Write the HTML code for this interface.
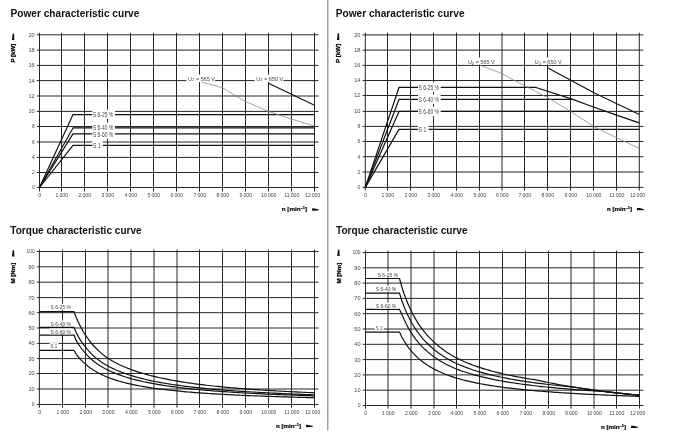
<!DOCTYPE html><html><head><meta charset="utf-8"><style>html,body{margin:0;padding:0;background:#fff;width:700px;height:434px;overflow:hidden}svg{display:block;will-change:transform}text{font-family:"Liberation Sans", sans-serif}</style></head><body>
<svg width="700" height="434" viewBox="0 0 700 434">
<rect width="700" height="434" fill="#fff"/>
<g stroke="#262626" stroke-width="1">
<line x1="36.9" y1="187.5" x2="318.5" y2="187.5"/>
<line x1="36.9" y1="172.5" x2="318.5" y2="172.5"/>
<line x1="36.9" y1="157.4" x2="318.5" y2="157.4"/>
<line x1="36.9" y1="142" x2="318.5" y2="142"/>
<line x1="36.9" y1="126.5" x2="318.5" y2="126.5"/>
<line x1="36.9" y1="111.4" x2="318.5" y2="111.4"/>
<line x1="36.9" y1="96" x2="318.5" y2="96"/>
<line x1="36.9" y1="80.6" x2="318.5" y2="80.6"/>
<line x1="36.9" y1="65.4" x2="318.5" y2="65.4"/>
<line x1="36.9" y1="50.1" x2="318.5" y2="50.1"/>
<line x1="36.9" y1="34.8" x2="318.5" y2="34.8"/>
<line x1="39.5" y1="32.8" x2="39.5" y2="191.5"/>
<line x1="61.5" y1="32.8" x2="61.5" y2="191.5"/>
<line x1="84.5" y1="32.8" x2="84.5" y2="191.5"/>
<line x1="107.5" y1="32.8" x2="107.5" y2="191.5"/>
<line x1="130.5" y1="32.8" x2="130.5" y2="191.5"/>
<line x1="153.5" y1="32.8" x2="153.5" y2="191.5"/>
<line x1="176.5" y1="32.8" x2="176.5" y2="191.5"/>
<line x1="199.5" y1="32.8" x2="199.5" y2="191.5"/>
<line x1="222.5" y1="32.8" x2="222.5" y2="191.5"/>
<line x1="245.5" y1="32.8" x2="245.5" y2="191.5"/>
<line x1="268.5" y1="32.8" x2="268.5" y2="191.5"/>
<line x1="291.5" y1="32.8" x2="291.5" y2="191.5"/>
<line x1="314.5" y1="32.8" x2="314.5" y2="191.5"/>
</g>
<g stroke="#262626" stroke-width="1">
<line x1="362.6" y1="187.4" x2="643.4" y2="187.4"/>
<line x1="362.6" y1="172" x2="643.4" y2="172"/>
<line x1="362.6" y1="156.7" x2="643.4" y2="156.7"/>
<line x1="362.6" y1="141.5" x2="643.4" y2="141.5"/>
<line x1="362.6" y1="126.4" x2="643.4" y2="126.4"/>
<line x1="362.6" y1="111.4" x2="643.4" y2="111.4"/>
<line x1="362.6" y1="95.5" x2="643.4" y2="95.5"/>
<line x1="362.6" y1="80.5" x2="643.4" y2="80.5"/>
<line x1="362.6" y1="65.4" x2="643.4" y2="65.4"/>
<line x1="362.6" y1="50.1" x2="643.4" y2="50.1"/>
<line x1="362.6" y1="34.9" x2="643.4" y2="34.9"/>
<line x1="365.3" y1="32.7" x2="365.3" y2="190.6"/>
<line x1="387.5" y1="32.7" x2="387.5" y2="190.6"/>
<line x1="410.5" y1="32.7" x2="410.5" y2="190.6"/>
<line x1="433.5" y1="32.7" x2="433.5" y2="190.6"/>
<line x1="456.5" y1="32.7" x2="456.5" y2="190.6"/>
<line x1="479.5" y1="32.7" x2="479.5" y2="190.6"/>
<line x1="502" y1="32.7" x2="502" y2="190.6"/>
<line x1="524.5" y1="32.7" x2="524.5" y2="190.6"/>
<line x1="547.5" y1="32.7" x2="547.5" y2="190.6"/>
<line x1="570.5" y1="32.7" x2="570.5" y2="190.6"/>
<line x1="593.5" y1="32.7" x2="593.5" y2="190.6"/>
<line x1="616.5" y1="32.7" x2="616.5" y2="190.6"/>
<line x1="639.3" y1="32.7" x2="639.3" y2="190.6"/>
</g>
<g stroke="#262626" stroke-width="1">
<line x1="36.8" y1="404.5" x2="318.5" y2="404.5"/>
<line x1="36.8" y1="389" x2="318.5" y2="389"/>
<line x1="36.8" y1="373.5" x2="318.5" y2="373.5"/>
<line x1="36.8" y1="358.6" x2="318.5" y2="358.6"/>
<line x1="36.8" y1="343.4" x2="318.5" y2="343.4"/>
<line x1="36.8" y1="328" x2="318.5" y2="328"/>
<line x1="36.8" y1="312.7" x2="318.5" y2="312.7"/>
<line x1="36.8" y1="297.6" x2="318.5" y2="297.6"/>
<line x1="36.8" y1="282.2" x2="318.5" y2="282.2"/>
<line x1="36.8" y1="266.8" x2="318.5" y2="266.8"/>
<line x1="36.8" y1="251.5" x2="318.5" y2="251.5"/>
<line x1="39.4" y1="249.5" x2="39.4" y2="407.7"/>
<line x1="62.5" y1="249.5" x2="62.5" y2="407.7"/>
<line x1="85.5" y1="249.5" x2="85.5" y2="407.7"/>
<line x1="108" y1="249.5" x2="108" y2="407.7"/>
<line x1="131" y1="249.5" x2="131" y2="407.7"/>
<line x1="154" y1="249.5" x2="154" y2="407.7"/>
<line x1="177" y1="249.5" x2="177" y2="407.7"/>
<line x1="199.5" y1="249.5" x2="199.5" y2="407.7"/>
<line x1="222.5" y1="249.5" x2="222.5" y2="407.7"/>
<line x1="245.5" y1="249.5" x2="245.5" y2="407.7"/>
<line x1="268.5" y1="249.5" x2="268.5" y2="407.7"/>
<line x1="291.5" y1="249.5" x2="291.5" y2="407.7"/>
<line x1="314.5" y1="249.5" x2="314.5" y2="407.7"/>
</g>
<g stroke="#262626" stroke-width="1">
<line x1="362.7" y1="405.5" x2="643.4" y2="405.5"/>
<line x1="362.7" y1="390.2" x2="643.4" y2="390.2"/>
<line x1="362.7" y1="374.9" x2="643.4" y2="374.9"/>
<line x1="362.7" y1="359.6" x2="643.4" y2="359.6"/>
<line x1="362.7" y1="344.3" x2="643.4" y2="344.3"/>
<line x1="362.7" y1="329" x2="643.4" y2="329"/>
<line x1="362.7" y1="313.7" x2="643.4" y2="313.7"/>
<line x1="362.7" y1="298.4" x2="643.4" y2="298.4"/>
<line x1="362.7" y1="283.1" x2="643.4" y2="283.1"/>
<line x1="362.7" y1="267.8" x2="643.4" y2="267.8"/>
<line x1="362.7" y1="252.5" x2="643.4" y2="252.5"/>
<line x1="365.5" y1="250.5" x2="365.5" y2="408.6"/>
<line x1="388" y1="250.5" x2="388" y2="408.6"/>
<line x1="411" y1="250.5" x2="411" y2="408.6"/>
<line x1="434" y1="250.5" x2="434" y2="408.6"/>
<line x1="456.5" y1="250.5" x2="456.5" y2="408.6"/>
<line x1="479.5" y1="250.5" x2="479.5" y2="408.6"/>
<line x1="502.5" y1="250.5" x2="502.5" y2="408.6"/>
<line x1="525.5" y1="250.5" x2="525.5" y2="408.6"/>
<line x1="548.5" y1="250.5" x2="548.5" y2="408.6"/>
<line x1="571" y1="250.5" x2="571" y2="408.6"/>
<line x1="594" y1="250.5" x2="594" y2="408.6"/>
<line x1="616.5" y1="250.5" x2="616.5" y2="408.6"/>
<line x1="639.5" y1="250.5" x2="639.5" y2="408.6"/>
</g>
<path d="M39.5 187.5 L73 114.57 L314.5 114.57" fill="none" stroke="#111" stroke-width="1.2" stroke-linejoin="round"/>
<path d="M39.5 187.5 L73 127.97 L314.5 127.97" fill="none" stroke="#111" stroke-width="1.2" stroke-linejoin="round"/>
<path d="M39.5 187.5 L73 133.86 L314.5 133.86" fill="none" stroke="#111" stroke-width="1.2" stroke-linejoin="round"/>
<path d="M39.5 187.5 L73 145.39 L314.5 145.39" fill="none" stroke="#111" stroke-width="1.2" stroke-linejoin="round"/>
<path d="M201.8 82.14 L221.97 87.53 L243.75 100.62 L268.27 111.4 L292.81 119.48 L314.5 126.12" fill="none" stroke="#8a8a8a" stroke-width="0.8" stroke-linejoin="round"/>
<path d="M268.5 83.29 L314.5 105.24" fill="none" stroke="#111" stroke-width="1.1" stroke-linejoin="round"/>
<path d="M365.3 187.4 L399 87.47 L536 87.47 L570.5 98.68 L593.5 107.03 L616.5 115.15 L639.3 122.88" fill="none" stroke="#111" stroke-width="1.2" stroke-linejoin="round"/>
<path d="M365.3 187.4 L399 99.47 L572.8 99.47" fill="none" stroke="#111" stroke-width="1.2" stroke-linejoin="round"/>
<path d="M365.3 187.4 L399 111.4 L605.69 111.4" fill="none" stroke="#111" stroke-width="1.2" stroke-linejoin="round"/>
<path d="M365.3 187.4 L399 129.42 L639.3 129.42" fill="none" stroke="#111" stroke-width="1.2" stroke-linejoin="round"/>
<path d="M480.85 65.4 L502 73.7 L524.5 85.75 L547.5 97.49 L570.5 111.4 L593.5 126.4 L616.5 137.72 L639.3 148.34" fill="none" stroke="#8a8a8a" stroke-width="0.8" stroke-linejoin="round"/>
<path d="M547.5 67.67 L593.5 92.5 L639.3 114.4" fill="none" stroke="#111" stroke-width="1.1" stroke-linejoin="round"/>
<path d="M39.4 311.64 L74 311.64 L76.3 317.75 L78.6 322.85 L80.9 327.39 L83.2 331.47 L85.5 335.15 L87.75 338.47 L90 341.5 L92.25 344.25 L94.5 346.75 L96.75 349.04 L99 351.16 L101.25 353.13 L103.5 354.95 L105.75 356.65 L108 358.24 L110.3 359.7 L112.6 361.06 L114.9 362.34 L117.2 363.54 L119.5 364.68 L121.8 365.75 L124.1 366.77 L126.4 367.73 L128.7 368.64 L131 369.51 L133.3 370.33 L135.6 371.12 L137.9 371.87 L140.2 372.58 L142.5 373.26 L144.8 373.93 L147.1 374.58 L149.4 375.21 L151.7 375.8 L154 376.38 L156.3 376.93 L158.6 377.46 L160.9 377.97 L163.2 378.46 L165.5 378.93 L167.8 379.39 L170.1 379.83 L172.4 380.26 L174.7 380.67 L177 381.06 L179.25 381.45 L181.5 381.82 L183.75 382.18 L186 382.53 L188.25 382.87 L190.5 383.19 L192.75 383.51 L195 383.82 L197.25 384.12 L199.5 384.41 L201.8 384.7 L204.1 384.97 L206.4 385.24 L208.7 385.5 L211 385.75 L213.3 386 L215.6 386.24 L217.9 386.47 L220.2 386.7 L222.5 386.92 L224.8 387.14 L227.1 387.35 L229.4 387.56 L231.7 387.76 L234 387.96 L236.3 388.15 L238.6 388.34 L240.9 388.52 L243.2 388.7 L245.5 388.88 L247.8 389.05 L250.1 389.22 L252.4 389.38 L254.7 389.54 L257 389.7 L259.3 389.85 L261.6 390 L263.9 390.15 L266.2 390.3 L268.5 390.44 L270.8 390.58 L273.1 390.71 L275.4 390.85 L277.7 390.98 L280 391.11 L282.3 391.23 L284.6 391.36 L286.9 391.48 L289.2 391.6 L291.5 391.72 L293.8 391.83 L296.1 391.95 L298.4 392.06 L300.7 392.17 L303 392.27 L305.3 392.38 L307.6 392.48 L309.9 392.58 L312.2 392.68 L314.5 392.78" fill="none" stroke="#111" stroke-width="1.2" stroke-linejoin="round"/>
<path d="M39.4 327.39 L74 327.39 L76.3 332.85 L78.6 337.09 L80.9 340.87 L83.2 344.23 L85.5 347.23 L87.75 349.94 L90 352.41 L92.25 354.66 L94.5 356.72 L96.75 358.62 L99 360.34 L101.25 361.93 L103.5 363.41 L105.75 364.79 L108 366.07 L110.3 367.27 L112.6 368.4 L114.9 369.45 L117.2 370.45 L119.5 371.39 L121.8 372.27 L124.1 373.11 L126.4 373.92 L128.7 374.71 L131 375.45 L133.3 376.16 L135.6 376.84 L137.9 377.48 L140.2 378.09 L142.5 378.68 L144.8 379.24 L147.1 379.78 L149.4 380.29 L151.7 380.79 L154 381.26 L156.3 381.72 L158.6 382.16 L160.9 382.58 L163.2 382.98 L165.5 383.37 L167.8 383.75 L170.1 384.12 L172.4 384.47 L174.7 384.81 L177 385.13 L179.25 385.45 L181.5 385.76 L183.75 386.06 L186 386.35 L188.25 386.62 L190.5 386.9 L192.75 387.16 L195 387.41 L197.25 387.66 L199.5 387.9 L201.8 388.14 L204.1 388.36 L206.4 388.58 L208.7 388.8 L211 389.01 L213.3 389.21 L215.6 389.41 L217.9 389.6 L220.2 389.79 L222.5 389.98 L224.8 390.16 L227.1 390.33 L229.4 390.5 L231.7 390.67 L234 390.83 L236.3 390.99 L238.6 391.14 L240.9 391.3 L243.2 391.44 L245.5 391.59 L247.8 391.73 L250.1 391.87 L252.4 392.01 L254.7 392.14 L257 392.27 L259.3 392.4 L261.6 392.52 L263.9 392.64 L266.2 392.76 L268.5 392.88 L270.8 393 L273.1 393.11 L275.4 393.22 L277.7 393.33 L280 393.43 L282.3 393.54 L284.6 393.64 L286.9 393.74 L289.2 393.84 L291.5 393.94 L293.8 394.03 L296.1 394.13 L298.4 394.22 L300.7 394.31 L303 394.4 L305.3 394.48 L307.6 394.57 L309.9 394.65 L312.2 394.74 L314.5 394.82" fill="none" stroke="#111" stroke-width="1.2" stroke-linejoin="round"/>
<path d="M39.4 335.08 L74 335.08 L76.3 340.66 L78.6 344.43 L80.9 347.75 L83.2 350.72 L85.5 353.4 L87.75 355.82 L90 358.02 L92.25 360 L94.5 361.8 L96.75 363.46 L99 364.99 L101.25 366.41 L103.5 367.73 L105.75 368.96 L108 370.1 L110.3 371.17 L112.6 372.18 L114.9 373.12 L117.2 374.03 L119.5 374.9 L121.8 375.72 L124.1 376.5 L126.4 377.23 L128.7 377.93 L131 378.6 L133.3 379.23 L135.6 379.83 L137.9 380.4 L140.2 380.95 L142.5 381.48 L144.8 381.98 L147.1 382.46 L149.4 382.91 L151.7 383.36 L154 383.78 L156.3 384.18 L158.6 384.58 L160.9 384.95 L163.2 385.31 L165.5 385.66 L167.8 386 L170.1 386.32 L172.4 386.64 L174.7 386.94 L177 387.23 L179.25 387.51 L181.5 387.79 L183.75 388.05 L186 388.31 L188.25 388.56 L190.5 388.8 L192.75 389.04 L195 389.26 L197.25 389.48 L199.5 389.7 L201.8 389.91 L204.1 390.11 L206.4 390.31 L208.7 390.5 L211 390.69 L213.3 390.87 L215.6 391.04 L217.9 391.22 L220.2 391.38 L222.5 391.55 L224.8 391.71 L227.1 391.86 L229.4 392.02 L231.7 392.17 L234 392.31 L236.3 392.45 L238.6 392.59 L240.9 392.73 L243.2 392.86 L245.5 392.99 L247.8 393.11 L250.1 393.24 L252.4 393.36 L254.7 393.48 L257 393.59 L259.3 393.71 L261.6 393.82 L263.9 393.93 L266.2 394.03 L268.5 394.14 L270.8 394.24 L273.1 394.34 L275.4 394.44 L277.7 394.54 L280 394.63 L282.3 394.73 L284.6 394.82 L286.9 394.91 L289.2 394.99 L291.5 395.08 L293.8 395.17 L296.1 395.25 L298.4 395.33 L300.7 395.41 L303 395.49 L305.3 395.57 L307.6 395.64 L309.9 395.72 L312.2 395.79 L314.5 395.87" fill="none" stroke="#111" stroke-width="1.2" stroke-linejoin="round"/>
<path d="M39.4 350.39 L74 350.39 L76.3 354.3 L78.6 357.24 L80.9 359.82 L83.2 362.11 L85.5 364.17 L87.75 366.03 L90 367.73 L92.25 369.28 L94.5 370.69 L96.75 372 L99 373.2 L101.25 374.35 L103.5 375.43 L105.75 376.43 L108 377.36 L110.3 378.24 L112.6 379.06 L114.9 379.83 L117.2 380.56 L119.5 381.24 L121.8 381.89 L124.1 382.5 L126.4 383.08 L128.7 383.63 L131 384.15 L133.3 384.64 L135.6 385.12 L137.9 385.57 L140.2 386 L142.5 386.41 L144.8 386.8 L147.1 387.18 L149.4 387.54 L151.7 387.89 L154 388.22 L156.3 388.54 L158.6 388.84 L160.9 389.14 L163.2 389.42 L165.5 389.7 L167.8 389.96 L170.1 390.22 L172.4 390.46 L174.7 390.7 L177 390.93 L179.25 391.15 L181.5 391.37 L183.75 391.58 L186 391.78 L188.25 391.98 L190.5 392.17 L192.75 392.35 L195 392.53 L197.25 392.7 L199.5 392.87 L201.8 393.03 L204.1 393.19 L206.4 393.35 L208.7 393.5 L211 393.65 L213.3 393.79 L215.6 393.93 L217.9 394.06 L220.2 394.2 L222.5 394.32 L224.8 394.45 L227.1 394.57 L229.4 394.69 L231.7 394.81 L234 394.92 L236.3 395.03 L238.6 395.14 L240.9 395.25 L243.2 395.35 L245.5 395.45 L247.8 395.55 L250.1 395.65 L252.4 395.75 L254.7 395.84 L257 395.93 L259.3 396.02 L261.6 396.11 L263.9 396.19 L266.2 396.28 L268.5 396.36 L270.8 396.44 L273.1 396.52 L275.4 396.6 L277.7 396.67 L280 396.75 L282.3 396.82 L284.6 396.89 L286.9 396.96 L289.2 397.03 L291.5 397.1 L293.8 397.17 L296.1 397.23 L298.4 397.3 L300.7 397.36 L303 397.42 L305.3 397.48 L307.6 397.54 L309.9 397.6 L312.2 397.66 L314.5 397.72" fill="none" stroke="#111" stroke-width="1.2" stroke-linejoin="round"/>
<path d="M365.5 278.51 L399.5 278.51 L401.8 286.78 L404.1 293.75 L406.4 299.95 L408.7 305.5 L411 310.49 L413.3 315.01 L415.6 319.11 L417.9 322.86 L420.2 326.3 L422.5 329.46 L424.8 332.38 L427.1 335.08 L429.4 337.59 L431.7 339.92 L434 342.1 L436.25 344.14 L438.5 346.05 L440.75 347.85 L443 349.54 L445.25 351.14 L447.5 352.64 L449.75 354.06 L452 355.41 L454.25 356.69 L456.5 357.91 L458.8 359.07 L461.1 360.17 L463.4 361.22 L465.7 362.22 L468 363.18 L470.3 364.09 L472.6 364.97 L474.9 365.81 L477.2 366.62 L479.5 367.39 L481.8 368.14 L484.1 368.85 L486.4 369.54 L488.7 370.2 L491 370.84 L493.3 371.46 L495.6 372.05 L497.9 372.63 L500.2 373.18 L502.5 373.72 L504.8 374.23 L507.1 374.74 L509.4 375.22 L511.7 375.69 L514 376.15 L516.3 376.59 L518.6 377.02 L520.9 377.44 L523.2 377.84 L525.5 378.23 L527.8 378.61 L530.1 378.99 L532.4 379.35 L534.7 379.7 L537 380.04 L539.3 380.56 L541.6 381.07 L543.9 381.57 L546.2 382.05 L548.5 382.53 L550.75 382.99 L553 383.43 L555.25 383.87 L557.5 384.3 L559.75 384.72 L562 385.13 L564.25 385.53 L566.5 385.92 L568.75 386.3 L571 386.67 L573.3 387.04 L575.6 387.41 L577.9 387.77 L580.2 388.12 L582.5 388.47 L584.8 388.8 L587.1 389.13 L589.4 389.46 L591.7 389.78 L594 390.09 L596.25 390.39 L598.5 390.69 L600.75 390.98 L603 391.27 L605.25 391.55 L607.5 391.83 L609.75 392.1 L612 392.36 L614.25 392.63 L616.5 392.88 L618.8 393.13 L621.1 393.38 L623.4 393.62 L625.7 393.85 L628 394.08 L630.3 394.31 L632.6 394.54 L634.9 394.76 L637.2 394.97 L639.5 395.19" fill="none" stroke="#111" stroke-width="1.2" stroke-linejoin="round"/>
<path d="M365.5 293.2 L399.5 293.2 L401.8 300.49 L404.1 306.66 L406.4 312.16 L408.7 317.07 L411 321.49 L413.3 325.49 L415.6 329.13 L417.9 332.45 L420.2 335.49 L422.5 338.29 L424.8 340.88 L427.1 343.27 L429.4 345.49 L431.7 347.56 L434 349.49 L436.25 351.3 L438.5 352.99 L440.75 354.58 L443 356.08 L445.25 357.49 L447.5 358.83 L449.75 360.09 L452 361.28 L454.25 362.42 L456.5 363.5 L458.8 364.52 L461.1 365.5 L463.4 366.43 L465.7 367.31 L468 368.16 L470.3 368.97 L472.6 369.75 L474.9 370.5 L477.2 371.21 L479.5 371.9 L481.8 372.55 L484.1 373.19 L486.4 373.8 L488.7 374.39 L491 374.95 L493.3 375.5 L495.6 376.02 L497.9 376.53 L500.2 377.02 L502.5 377.5 L504.8 377.96 L507.1 378.4 L509.4 378.83 L511.7 379.25 L514 379.65 L516.3 380.04 L518.6 380.42 L520.9 380.79 L523.2 381.15 L525.5 381.5 L527.8 381.84 L530.1 382.16 L532.4 382.48 L534.7 382.79 L537 383.1 L539.3 383.39 L541.6 383.68 L543.9 383.96 L546.2 384.23 L548.5 384.5 L550.75 384.76 L553 385.01 L555.25 385.26 L557.5 385.5 L559.75 385.73 L562 385.96 L564.25 386.19 L566.5 386.41 L568.75 386.62 L571 386.83 L573.3 387.04 L575.6 387.4 L577.9 387.76 L580.2 388.12 L582.5 388.46 L584.8 388.8 L587.1 389.13 L589.4 389.46 L591.7 389.77 L594 390.09 L596.25 390.39 L598.5 390.69 L600.75 390.98 L603 391.27 L605.25 391.55 L607.5 391.83 L609.75 392.1 L612 392.36 L614.25 392.63 L616.5 392.88 L618.8 393.13 L621.1 393.38 L623.4 393.62 L625.7 393.85 L628 394.08 L630.3 394.31 L632.6 394.54 L634.9 394.76 L637.2 394.97 L639.5 395.19" fill="none" stroke="#111" stroke-width="1.2" stroke-linejoin="round"/>
<path d="M365.5 309.42 L399.5 309.42 L401.8 314.18 L404.1 319.56 L406.4 324.33 L408.7 328.6 L411 332.45 L413.3 335.93 L415.6 339.09 L417.9 341.98 L420.2 344.62 L422.5 347.06 L424.8 349.31 L427.1 351.39 L429.4 353.32 L431.7 355.12 L434 356.8 L436.25 358.37 L438.5 359.84 L440.75 361.23 L443 362.53 L445.25 363.76 L447.5 364.92 L449.75 366.01 L452 367.05 L454.25 368.04 L456.5 368.97 L458.8 369.86 L461.1 370.71 L463.4 371.52 L465.7 372.29 L468 373.03 L470.3 373.74 L472.6 374.41 L474.9 375.06 L477.2 375.68 L479.5 376.28 L481.8 376.85 L484.1 377.4 L486.4 377.93 L488.7 378.44 L491 378.94 L493.3 379.41 L495.6 379.87 L497.9 380.31 L500.2 380.74 L502.5 381.15 L504.8 381.55 L507.1 381.93 L509.4 382.31 L511.7 382.67 L514 383.02 L516.3 383.36 L518.6 383.69 L520.9 384.01 L523.2 384.33 L525.5 384.63 L527.8 384.92 L530.1 385.21 L532.4 385.49 L534.7 385.76 L537 386.02 L539.3 386.28 L541.6 386.53 L543.9 386.77 L546.2 387.01 L548.5 387.24 L550.75 387.46 L553 387.68 L555.25 387.9 L557.5 388.11 L559.75 388.31 L562 388.51 L564.25 388.71 L566.5 388.9 L568.75 389.08 L571 389.27 L573.3 389.44 L575.6 389.62 L577.9 389.79 L580.2 389.96 L582.5 390.12 L584.8 390.28 L587.1 390.44 L589.4 390.59 L591.7 390.74 L594 390.89 L596.25 391.03 L598.5 391.18 L600.75 391.32 L603 391.45 L605.25 391.59 L607.5 391.82 L609.75 392.09 L612 392.36 L614.25 392.62 L616.5 392.88 L618.8 393.13 L621.1 393.38 L623.4 393.62 L625.7 393.85 L628 394.08 L630.3 394.31 L632.6 394.54 L634.9 394.76 L637.2 394.97 L639.5 395.19" fill="none" stroke="#111" stroke-width="1.2" stroke-linejoin="round"/>
<path d="M365.5 332.06 L399.5 332.06 L401.8 337.01 L404.1 341.04 L406.4 344.62 L408.7 347.83 L411 350.71 L413.3 353.32 L415.6 355.69 L417.9 357.86 L420.2 359.84 L422.5 361.67 L424.8 363.35 L427.1 364.92 L429.4 366.36 L431.7 367.71 L434 368.97 L436.25 370.15 L438.5 371.26 L440.75 372.29 L443 373.27 L445.25 374.19 L447.5 375.06 L449.75 375.88 L452 376.66 L454.25 377.4 L456.5 378.11 L458.8 378.77 L461.1 379.41 L463.4 380.02 L465.7 380.6 L468 381.15 L470.3 381.68 L472.6 382.19 L474.9 382.67 L477.2 383.14 L479.5 383.58 L481.8 384.01 L484.1 384.43 L486.4 384.82 L488.7 385.21 L491 385.58 L493.3 385.93 L495.6 386.28 L497.9 386.61 L500.2 386.93 L502.5 387.24 L504.8 387.54 L507.1 387.83 L509.4 388.11 L511.7 388.38 L514 388.64 L516.3 388.9 L518.6 389.15 L520.9 389.39 L523.2 389.62 L525.5 389.85 L527.8 390.07 L530.1 390.28 L532.4 390.49 L534.7 390.69 L537 390.89 L539.3 391.08 L541.6 391.27 L543.9 391.45 L546.2 391.63 L548.5 391.8 L550.75 391.97 L553 392.14 L555.25 392.3 L557.5 392.45 L559.75 392.61 L562 392.76 L564.25 392.9 L566.5 393.05 L568.75 393.19 L571 393.32 L573.3 393.46 L575.6 393.59 L577.9 393.72 L580.2 393.84 L582.5 393.97 L584.8 394.09 L587.1 394.2 L589.4 394.32 L591.7 394.43 L594 394.54 L596.25 394.65 L598.5 394.76 L600.75 394.86 L603 394.96 L605.25 395.06 L607.5 395.16 L609.75 395.26 L612 395.35 L614.25 395.45 L616.5 395.54 L618.8 395.63 L621.1 395.72 L623.4 395.8 L625.7 395.89 L628 395.97 L630.3 396.05 L632.6 396.13 L634.9 396.21 L637.2 396.29 L639.5 396.37" fill="none" stroke="#111" stroke-width="1.2" stroke-linejoin="round"/>
<rect x="92.3" y="109.7" width="22.7" height="9.2" fill="#fff"/>
<rect x="92.3" y="122.6" width="22.7" height="9.2" fill="#fff"/>
<rect x="92.3" y="129.5" width="22.7" height="9.2" fill="#fff"/>
<rect x="92.3" y="140.4" width="10.6" height="9.2" fill="#fff"/>
<text x="92.9" y="116.9" font-size="6.4" text-anchor="start" font-weight="normal" fill="#444" textLength="20.3" lengthAdjust="spacingAndGlyphs">S 6-25 %</text>
<text x="92.9" y="129.8" font-size="6.4" text-anchor="start" font-weight="normal" fill="#444" textLength="20.3" lengthAdjust="spacingAndGlyphs">S 6-40 %</text>
<text x="92.9" y="136.7" font-size="6.4" text-anchor="start" font-weight="normal" fill="#444" textLength="20.3" lengthAdjust="spacingAndGlyphs">S 6-60 %</text>
<text x="92.9" y="147.6" font-size="6.4" text-anchor="start" font-weight="normal" fill="#444" textLength="7.6" lengthAdjust="spacingAndGlyphs">S 1</text>
<rect x="418" y="82.6" width="22.7" height="9.2" fill="#fff"/>
<rect x="418" y="94.6" width="22.7" height="9.2" fill="#fff"/>
<rect x="418" y="106.9" width="22.7" height="9.2" fill="#fff"/>
<rect x="418" y="124.9" width="10.6" height="9.2" fill="#fff"/>
<text x="418.6" y="89.8" font-size="6.4" text-anchor="start" font-weight="normal" fill="#444" textLength="20.3" lengthAdjust="spacingAndGlyphs">S 6-25 %</text>
<text x="418.6" y="101.8" font-size="6.4" text-anchor="start" font-weight="normal" fill="#444" textLength="20.3" lengthAdjust="spacingAndGlyphs">S 6-40 %</text>
<text x="418.6" y="114.1" font-size="6.4" text-anchor="start" font-weight="normal" fill="#444" textLength="20.3" lengthAdjust="spacingAndGlyphs">S 6-60 %</text>
<text x="418.6" y="132.1" font-size="6.4" text-anchor="start" font-weight="normal" fill="#444" textLength="7.6" lengthAdjust="spacingAndGlyphs">S 1</text>
<rect x="186.4" y="74.6" width="28.8" height="7.4" fill="#fff"/>
<text x="188.1" y="80.5" font-size="5.8" fill="#444" textLength="26.8" lengthAdjust="spacingAndGlyphs">U<tspan font-size="4.2" dy="0.9">Z</tspan><tspan dy="-0.9"> = 565 V</tspan></text>
<rect x="254.6" y="74.6" width="28.8" height="7.4" fill="#fff"/>
<text x="256.3" y="80.5" font-size="5.8" fill="#444" textLength="26.8" lengthAdjust="spacingAndGlyphs">U<tspan font-size="4.2" dy="0.9">Z</tspan><tspan dy="-0.9"> = 650 V</tspan></text>
<rect x="466.2" y="57.5" width="28.8" height="7.1" fill="#fff"/>
<text x="467.9" y="64" font-size="5.8" fill="#444" textLength="26.8" lengthAdjust="spacingAndGlyphs">U<tspan font-size="4.2" dy="0.9">Z</tspan><tspan dy="-0.9"> = 565 V</tspan></text>
<rect x="533.1" y="57.5" width="28.8" height="7.1" fill="#fff"/>
<text x="534.8" y="64" font-size="5.8" fill="#444" textLength="26.8" lengthAdjust="spacingAndGlyphs">U<tspan font-size="4.2" dy="0.9">Z</tspan><tspan dy="-0.9"> = 650 V</tspan></text>
<rect x="49.5" y="303.8" width="22.9" height="5.9" fill="#fff"/>
<rect x="49.5" y="320.3" width="22.9" height="5.9" fill="#fff"/>
<rect x="49.5" y="328.4" width="22.9" height="5.9" fill="#fff"/>
<rect x="49.5" y="343.1" width="9.1" height="5.9" fill="#fff"/>
<text x="50.6" y="309" font-size="5.7" text-anchor="start" font-weight="normal" fill="#444" textLength="20.4" lengthAdjust="spacingAndGlyphs">S 6-25 %</text>
<text x="50.6" y="325.5" font-size="5.7" text-anchor="start" font-weight="normal" fill="#444" textLength="20.4" lengthAdjust="spacingAndGlyphs">S 6-40 %</text>
<text x="50.6" y="333.6" font-size="5.7" text-anchor="start" font-weight="normal" fill="#444" textLength="20.4" lengthAdjust="spacingAndGlyphs">S 6-60 %</text>
<text x="50.6" y="348.3" font-size="5.7" text-anchor="start" font-weight="normal" fill="#444" textLength="6.6" lengthAdjust="spacingAndGlyphs">S 1</text>
<rect x="376.6" y="271.4" width="22.9" height="5.9" fill="#fff"/>
<rect x="374.7" y="285.7" width="22.9" height="5.9" fill="#fff"/>
<rect x="374.7" y="302.7" width="22.9" height="5.9" fill="#fff"/>
<rect x="374.7" y="324.4" width="9.1" height="5.9" fill="#fff"/>
<text x="377.7" y="276.6" font-size="5.7" text-anchor="start" font-weight="normal" fill="#444" textLength="20.4" lengthAdjust="spacingAndGlyphs">S 6-25 %</text>
<text x="375.8" y="290.9" font-size="5.7" text-anchor="start" font-weight="normal" fill="#444" textLength="20.4" lengthAdjust="spacingAndGlyphs">S 6-40 %</text>
<text x="375.8" y="307.9" font-size="5.7" text-anchor="start" font-weight="normal" fill="#444" textLength="20.4" lengthAdjust="spacingAndGlyphs">S 6-60 %</text>
<text x="375.8" y="329.6" font-size="5.7" text-anchor="start" font-weight="normal" fill="#444" textLength="6.6" lengthAdjust="spacingAndGlyphs">S 1</text>
<text x="34.7" y="189.4" font-size="5.4" text-anchor="end" font-weight="normal" fill="#444" textLength="2.8" lengthAdjust="spacingAndGlyphs">0</text>
<text x="34.7" y="174.4" font-size="5.4" text-anchor="end" font-weight="normal" fill="#444" textLength="2.8" lengthAdjust="spacingAndGlyphs">2</text>
<text x="34.7" y="159.3" font-size="5.4" text-anchor="end" font-weight="normal" fill="#444" textLength="2.8" lengthAdjust="spacingAndGlyphs">4</text>
<text x="34.7" y="143.9" font-size="5.4" text-anchor="end" font-weight="normal" fill="#444" textLength="2.8" lengthAdjust="spacingAndGlyphs">6</text>
<text x="34.7" y="128.4" font-size="5.4" text-anchor="end" font-weight="normal" fill="#444" textLength="2.8" lengthAdjust="spacingAndGlyphs">8</text>
<text x="34.7" y="113.3" font-size="5.4" text-anchor="end" font-weight="normal" fill="#444" textLength="6.2" lengthAdjust="spacingAndGlyphs">10</text>
<text x="34.7" y="97.9" font-size="5.4" text-anchor="end" font-weight="normal" fill="#444" textLength="6.2" lengthAdjust="spacingAndGlyphs">12</text>
<text x="34.7" y="82.5" font-size="5.4" text-anchor="end" font-weight="normal" fill="#444" textLength="6.2" lengthAdjust="spacingAndGlyphs">14</text>
<text x="34.7" y="67.3" font-size="5.4" text-anchor="end" font-weight="normal" fill="#444" textLength="6.2" lengthAdjust="spacingAndGlyphs">16</text>
<text x="34.7" y="52" font-size="5.4" text-anchor="end" font-weight="normal" fill="#444" textLength="6.2" lengthAdjust="spacingAndGlyphs">18</text>
<text x="34.7" y="36.7" font-size="5.4" text-anchor="end" font-weight="normal" fill="#444" textLength="6.2" lengthAdjust="spacingAndGlyphs">20</text>
<text x="39.8" y="197.4" font-size="6" text-anchor="middle" font-weight="normal" fill="#444" textLength="2.9" lengthAdjust="spacingAndGlyphs">0</text>
<text x="61.8" y="197.4" font-size="6" text-anchor="middle" font-weight="normal" fill="#444" textLength="12.6" lengthAdjust="spacingAndGlyphs">1&#8201;000</text>
<text x="84.8" y="197.4" font-size="6" text-anchor="middle" font-weight="normal" fill="#444" textLength="12.6" lengthAdjust="spacingAndGlyphs">2&#8201;000</text>
<text x="107.8" y="197.4" font-size="6" text-anchor="middle" font-weight="normal" fill="#444" textLength="12.6" lengthAdjust="spacingAndGlyphs">3&#8201;000</text>
<text x="130.8" y="197.4" font-size="6" text-anchor="middle" font-weight="normal" fill="#444" textLength="12.6" lengthAdjust="spacingAndGlyphs">4&#8201;000</text>
<text x="153.8" y="197.4" font-size="6" text-anchor="middle" font-weight="normal" fill="#444" textLength="12.6" lengthAdjust="spacingAndGlyphs">5&#8201;000</text>
<text x="176.8" y="197.4" font-size="6" text-anchor="middle" font-weight="normal" fill="#444" textLength="12.6" lengthAdjust="spacingAndGlyphs">6&#8201;000</text>
<text x="199.8" y="197.4" font-size="6" text-anchor="middle" font-weight="normal" fill="#444" textLength="12.6" lengthAdjust="spacingAndGlyphs">7&#8201;000</text>
<text x="222.8" y="197.4" font-size="6" text-anchor="middle" font-weight="normal" fill="#444" textLength="12.6" lengthAdjust="spacingAndGlyphs">8&#8201;000</text>
<text x="245.8" y="197.4" font-size="6" text-anchor="middle" font-weight="normal" fill="#444" textLength="12.6" lengthAdjust="spacingAndGlyphs">9&#8201;000</text>
<text x="268.8" y="197.4" font-size="6" text-anchor="middle" font-weight="normal" fill="#444" textLength="15.2" lengthAdjust="spacingAndGlyphs">10&#8201;000</text>
<text x="291.8" y="197.4" font-size="6" text-anchor="middle" font-weight="normal" fill="#444" textLength="15.2" lengthAdjust="spacingAndGlyphs">11&#8201;000</text>
<text x="312.7" y="197.4" font-size="6" text-anchor="middle" font-weight="normal" fill="#444" textLength="15.2" lengthAdjust="spacingAndGlyphs">12&#8201;000</text>
<text x="281.8" y="211.4" font-size="6.2" font-weight="bold" fill="#000" stroke="#000" stroke-width="0.2" textLength="25.2" lengthAdjust="spacingAndGlyphs">n [min<tspan font-size="4" dy="-2.2">&#8211;1</tspan><tspan dy="2.2">]</tspan></text>
<path d="M312.1 208.3 L314.7 208.4 L318.9 209.6 L318.3 210.6 L312.1 210.65 Z" fill="#111"/>
<text transform="translate(15.2 62.6) rotate(-90)" x="0" y="0" font-size="5.9" font-weight="bold" fill="#000" stroke="#000" stroke-width="0.25" textLength="18.9" lengthAdjust="spacingAndGlyphs">P [kW]</text>
<path d="M12.6 34.1 L14.1 34.1 L14.35 40 L11.9 40 Z" fill="#111"/>
<circle cx="13.35" cy="34.25" r="0.75" fill="#111"/>
<text x="360.4" y="189.3" font-size="5.4" text-anchor="end" font-weight="normal" fill="#444" textLength="2.8" lengthAdjust="spacingAndGlyphs">0</text>
<text x="360.4" y="173.9" font-size="5.4" text-anchor="end" font-weight="normal" fill="#444" textLength="2.8" lengthAdjust="spacingAndGlyphs">2</text>
<text x="360.4" y="158.6" font-size="5.4" text-anchor="end" font-weight="normal" fill="#444" textLength="2.8" lengthAdjust="spacingAndGlyphs">4</text>
<text x="360.4" y="143.4" font-size="5.4" text-anchor="end" font-weight="normal" fill="#444" textLength="2.8" lengthAdjust="spacingAndGlyphs">6</text>
<text x="360.4" y="128.3" font-size="5.4" text-anchor="end" font-weight="normal" fill="#444" textLength="2.8" lengthAdjust="spacingAndGlyphs">8</text>
<text x="360.4" y="113.3" font-size="5.4" text-anchor="end" font-weight="normal" fill="#444" textLength="6.2" lengthAdjust="spacingAndGlyphs">10</text>
<text x="360.4" y="97.4" font-size="5.4" text-anchor="end" font-weight="normal" fill="#444" textLength="6.2" lengthAdjust="spacingAndGlyphs">12</text>
<text x="360.4" y="82.4" font-size="5.4" text-anchor="end" font-weight="normal" fill="#444" textLength="6.2" lengthAdjust="spacingAndGlyphs">14</text>
<text x="360.4" y="67.3" font-size="5.4" text-anchor="end" font-weight="normal" fill="#444" textLength="6.2" lengthAdjust="spacingAndGlyphs">16</text>
<text x="360.4" y="52" font-size="5.4" text-anchor="end" font-weight="normal" fill="#444" textLength="6.2" lengthAdjust="spacingAndGlyphs">18</text>
<text x="360.4" y="36.8" font-size="5.4" text-anchor="end" font-weight="normal" fill="#444" textLength="6.2" lengthAdjust="spacingAndGlyphs">20</text>
<text x="365.6" y="196.9" font-size="6" text-anchor="middle" font-weight="normal" fill="#444" textLength="2.9" lengthAdjust="spacingAndGlyphs">0</text>
<text x="387.8" y="196.9" font-size="6" text-anchor="middle" font-weight="normal" fill="#444" textLength="12.6" lengthAdjust="spacingAndGlyphs">1&#8201;000</text>
<text x="410.8" y="196.9" font-size="6" text-anchor="middle" font-weight="normal" fill="#444" textLength="12.6" lengthAdjust="spacingAndGlyphs">2&#8201;000</text>
<text x="433.8" y="196.9" font-size="6" text-anchor="middle" font-weight="normal" fill="#444" textLength="12.6" lengthAdjust="spacingAndGlyphs">3&#8201;000</text>
<text x="456.8" y="196.9" font-size="6" text-anchor="middle" font-weight="normal" fill="#444" textLength="12.6" lengthAdjust="spacingAndGlyphs">4&#8201;000</text>
<text x="479.8" y="196.9" font-size="6" text-anchor="middle" font-weight="normal" fill="#444" textLength="12.6" lengthAdjust="spacingAndGlyphs">5&#8201;000</text>
<text x="502.3" y="196.9" font-size="6" text-anchor="middle" font-weight="normal" fill="#444" textLength="12.6" lengthAdjust="spacingAndGlyphs">6&#8201;000</text>
<text x="524.8" y="196.9" font-size="6" text-anchor="middle" font-weight="normal" fill="#444" textLength="12.6" lengthAdjust="spacingAndGlyphs">7&#8201;000</text>
<text x="547.8" y="196.9" font-size="6" text-anchor="middle" font-weight="normal" fill="#444" textLength="12.6" lengthAdjust="spacingAndGlyphs">8&#8201;000</text>
<text x="570.8" y="196.9" font-size="6" text-anchor="middle" font-weight="normal" fill="#444" textLength="12.6" lengthAdjust="spacingAndGlyphs">9&#8201;000</text>
<text x="593.8" y="196.9" font-size="6" text-anchor="middle" font-weight="normal" fill="#444" textLength="15.2" lengthAdjust="spacingAndGlyphs">10&#8201;000</text>
<text x="616.8" y="196.9" font-size="6" text-anchor="middle" font-weight="normal" fill="#444" textLength="15.2" lengthAdjust="spacingAndGlyphs">11&#8201;000</text>
<text x="637.5" y="196.9" font-size="6" text-anchor="middle" font-weight="normal" fill="#444" textLength="15.2" lengthAdjust="spacingAndGlyphs">12&#8201;000</text>
<text x="606.9" y="211" font-size="6.2" font-weight="bold" fill="#000" stroke="#000" stroke-width="0.2" textLength="25.2" lengthAdjust="spacingAndGlyphs">n [min<tspan font-size="4" dy="-2.2">&#8211;1</tspan><tspan dy="2.2">]</tspan></text>
<path d="M637 208 L639.6 208.1 L644.1 209.3 L643.5 210.3 L637 210.35 Z" fill="#111"/>
<text transform="translate(340.1 63) rotate(-90)" x="0" y="0" font-size="5.9" font-weight="bold" fill="#000" stroke="#000" stroke-width="0.25" textLength="19.3" lengthAdjust="spacingAndGlyphs">P [kW]</text>
<path d="M337.6 33.8 L339.1 33.8 L339.35 40 L336.9 40 Z" fill="#111"/>
<circle cx="338.35" cy="33.95" r="0.75" fill="#111"/>
<text x="34.6" y="406.4" font-size="5.4" text-anchor="end" font-weight="normal" fill="#444" textLength="2.8" lengthAdjust="spacingAndGlyphs">0</text>
<text x="34.6" y="390.9" font-size="5.4" text-anchor="end" font-weight="normal" fill="#444" textLength="6.2" lengthAdjust="spacingAndGlyphs">10</text>
<text x="34.6" y="375.4" font-size="5.4" text-anchor="end" font-weight="normal" fill="#444" textLength="6.2" lengthAdjust="spacingAndGlyphs">20</text>
<text x="34.6" y="360.5" font-size="5.4" text-anchor="end" font-weight="normal" fill="#444" textLength="6.2" lengthAdjust="spacingAndGlyphs">30</text>
<text x="34.6" y="345.3" font-size="5.4" text-anchor="end" font-weight="normal" fill="#444" textLength="6.2" lengthAdjust="spacingAndGlyphs">40</text>
<text x="34.6" y="329.9" font-size="5.4" text-anchor="end" font-weight="normal" fill="#444" textLength="6.2" lengthAdjust="spacingAndGlyphs">50</text>
<text x="34.6" y="314.6" font-size="5.4" text-anchor="end" font-weight="normal" fill="#444" textLength="6.2" lengthAdjust="spacingAndGlyphs">60</text>
<text x="34.6" y="299.5" font-size="5.4" text-anchor="end" font-weight="normal" fill="#444" textLength="6.2" lengthAdjust="spacingAndGlyphs">70</text>
<text x="34.6" y="284.1" font-size="5.4" text-anchor="end" font-weight="normal" fill="#444" textLength="6.2" lengthAdjust="spacingAndGlyphs">80</text>
<text x="34.6" y="268.7" font-size="5.4" text-anchor="end" font-weight="normal" fill="#444" textLength="6.2" lengthAdjust="spacingAndGlyphs">90</text>
<text x="34.6" y="253.4" font-size="5.4" text-anchor="end" font-weight="normal" fill="#444" textLength="8.1" lengthAdjust="spacingAndGlyphs">100</text>
<text x="39.7" y="414" font-size="6" text-anchor="middle" font-weight="normal" fill="#444" textLength="2.9" lengthAdjust="spacingAndGlyphs">0</text>
<text x="62.8" y="414" font-size="6" text-anchor="middle" font-weight="normal" fill="#444" textLength="12.6" lengthAdjust="spacingAndGlyphs">1&#8201;000</text>
<text x="85.8" y="414" font-size="6" text-anchor="middle" font-weight="normal" fill="#444" textLength="12.6" lengthAdjust="spacingAndGlyphs">2&#8201;000</text>
<text x="108.3" y="414" font-size="6" text-anchor="middle" font-weight="normal" fill="#444" textLength="12.6" lengthAdjust="spacingAndGlyphs">3&#8201;000</text>
<text x="131.3" y="414" font-size="6" text-anchor="middle" font-weight="normal" fill="#444" textLength="12.6" lengthAdjust="spacingAndGlyphs">4&#8201;000</text>
<text x="154.3" y="414" font-size="6" text-anchor="middle" font-weight="normal" fill="#444" textLength="12.6" lengthAdjust="spacingAndGlyphs">5&#8201;000</text>
<text x="177.3" y="414" font-size="6" text-anchor="middle" font-weight="normal" fill="#444" textLength="12.6" lengthAdjust="spacingAndGlyphs">6&#8201;000</text>
<text x="199.8" y="414" font-size="6" text-anchor="middle" font-weight="normal" fill="#444" textLength="12.6" lengthAdjust="spacingAndGlyphs">7&#8201;000</text>
<text x="222.8" y="414" font-size="6" text-anchor="middle" font-weight="normal" fill="#444" textLength="12.6" lengthAdjust="spacingAndGlyphs">8&#8201;000</text>
<text x="245.8" y="414" font-size="6" text-anchor="middle" font-weight="normal" fill="#444" textLength="12.6" lengthAdjust="spacingAndGlyphs">9&#8201;000</text>
<text x="268.8" y="414" font-size="6" text-anchor="middle" font-weight="normal" fill="#444" textLength="15.2" lengthAdjust="spacingAndGlyphs">10&#8201;000</text>
<text x="291.8" y="414" font-size="6" text-anchor="middle" font-weight="normal" fill="#444" textLength="15.2" lengthAdjust="spacingAndGlyphs">11&#8201;000</text>
<text x="312.7" y="414" font-size="6" text-anchor="middle" font-weight="normal" fill="#444" textLength="15.2" lengthAdjust="spacingAndGlyphs">12&#8201;000</text>
<text x="275.9" y="427.7" font-size="6.2" font-weight="bold" fill="#000" stroke="#000" stroke-width="0.2" textLength="25.2" lengthAdjust="spacingAndGlyphs">n [min<tspan font-size="4" dy="-2.2">&#8211;1</tspan><tspan dy="2.2">]</tspan></text>
<path d="M306.1 424.8 L308.7 424.9 L313 426.1 L312.4 427.1 L306.1 427.15 Z" fill="#111"/>
<text transform="translate(15.1 283.6) rotate(-90)" x="0" y="0" font-size="5.9" font-weight="bold" fill="#000" stroke="#000" stroke-width="0.25" textLength="20.9" lengthAdjust="spacingAndGlyphs">M [Nm]</text>
<path d="M12.6 250.8 L14.1 250.8 L14.35 256.5 L11.9 256.5 Z" fill="#111"/>
<circle cx="13.35" cy="250.95" r="0.75" fill="#111"/>
<text x="360.5" y="407.4" font-size="5.4" text-anchor="end" font-weight="normal" fill="#444" textLength="2.8" lengthAdjust="spacingAndGlyphs">0</text>
<text x="360.5" y="392.1" font-size="5.4" text-anchor="end" font-weight="normal" fill="#444" textLength="6.2" lengthAdjust="spacingAndGlyphs">10</text>
<text x="360.5" y="376.8" font-size="5.4" text-anchor="end" font-weight="normal" fill="#444" textLength="6.2" lengthAdjust="spacingAndGlyphs">20</text>
<text x="360.5" y="361.5" font-size="5.4" text-anchor="end" font-weight="normal" fill="#444" textLength="6.2" lengthAdjust="spacingAndGlyphs">30</text>
<text x="360.5" y="346.2" font-size="5.4" text-anchor="end" font-weight="normal" fill="#444" textLength="6.2" lengthAdjust="spacingAndGlyphs">40</text>
<text x="360.5" y="330.9" font-size="5.4" text-anchor="end" font-weight="normal" fill="#444" textLength="6.2" lengthAdjust="spacingAndGlyphs">50</text>
<text x="360.5" y="315.6" font-size="5.4" text-anchor="end" font-weight="normal" fill="#444" textLength="6.2" lengthAdjust="spacingAndGlyphs">60</text>
<text x="360.5" y="300.3" font-size="5.4" text-anchor="end" font-weight="normal" fill="#444" textLength="6.2" lengthAdjust="spacingAndGlyphs">70</text>
<text x="360.5" y="285" font-size="5.4" text-anchor="end" font-weight="normal" fill="#444" textLength="6.2" lengthAdjust="spacingAndGlyphs">80</text>
<text x="360.5" y="269.7" font-size="5.4" text-anchor="end" font-weight="normal" fill="#444" textLength="6.2" lengthAdjust="spacingAndGlyphs">90</text>
<text x="360.5" y="254.4" font-size="5.4" text-anchor="end" font-weight="normal" fill="#444" textLength="8.1" lengthAdjust="spacingAndGlyphs">100</text>
<text x="365.8" y="414.9" font-size="6" text-anchor="middle" font-weight="normal" fill="#444" textLength="2.9" lengthAdjust="spacingAndGlyphs">0</text>
<text x="388.3" y="414.9" font-size="6" text-anchor="middle" font-weight="normal" fill="#444" textLength="12.6" lengthAdjust="spacingAndGlyphs">1&#8201;000</text>
<text x="411.3" y="414.9" font-size="6" text-anchor="middle" font-weight="normal" fill="#444" textLength="12.6" lengthAdjust="spacingAndGlyphs">2&#8201;000</text>
<text x="434.3" y="414.9" font-size="6" text-anchor="middle" font-weight="normal" fill="#444" textLength="12.6" lengthAdjust="spacingAndGlyphs">3&#8201;000</text>
<text x="456.8" y="414.9" font-size="6" text-anchor="middle" font-weight="normal" fill="#444" textLength="12.6" lengthAdjust="spacingAndGlyphs">4&#8201;000</text>
<text x="479.8" y="414.9" font-size="6" text-anchor="middle" font-weight="normal" fill="#444" textLength="12.6" lengthAdjust="spacingAndGlyphs">5&#8201;000</text>
<text x="502.8" y="414.9" font-size="6" text-anchor="middle" font-weight="normal" fill="#444" textLength="12.6" lengthAdjust="spacingAndGlyphs">6&#8201;000</text>
<text x="525.8" y="414.9" font-size="6" text-anchor="middle" font-weight="normal" fill="#444" textLength="12.6" lengthAdjust="spacingAndGlyphs">7&#8201;000</text>
<text x="548.8" y="414.9" font-size="6" text-anchor="middle" font-weight="normal" fill="#444" textLength="12.6" lengthAdjust="spacingAndGlyphs">8&#8201;000</text>
<text x="571.3" y="414.9" font-size="6" text-anchor="middle" font-weight="normal" fill="#444" textLength="12.6" lengthAdjust="spacingAndGlyphs">9&#8201;000</text>
<text x="594.3" y="414.9" font-size="6" text-anchor="middle" font-weight="normal" fill="#444" textLength="15.2" lengthAdjust="spacingAndGlyphs">10&#8201;000</text>
<text x="616.8" y="414.9" font-size="6" text-anchor="middle" font-weight="normal" fill="#444" textLength="15.2" lengthAdjust="spacingAndGlyphs">11&#8201;000</text>
<text x="637.7" y="414.9" font-size="6" text-anchor="middle" font-weight="normal" fill="#444" textLength="15.2" lengthAdjust="spacingAndGlyphs">12&#8201;000</text>
<text x="600.9" y="428.9" font-size="6.2" font-weight="bold" fill="#000" stroke="#000" stroke-width="0.2" textLength="25.2" lengthAdjust="spacingAndGlyphs">n [min<tspan font-size="4" dy="-2.2">&#8211;1</tspan><tspan dy="2.2">]</tspan></text>
<path d="M631.1 425.7 L633.7 425.8 L638 427 L637.4 428 L631.1 428.05 Z" fill="#111"/>
<text transform="translate(341 283.6) rotate(-90)" x="0" y="0" font-size="5.9" font-weight="bold" fill="#000" stroke="#000" stroke-width="0.25" textLength="20.9" lengthAdjust="spacingAndGlyphs">M [Nm]</text>
<path d="M337.9 250.2 L339.4 250.2 L339.65 256 L337.2 256 Z" fill="#111"/>
<circle cx="338.65" cy="250.35" r="0.75" fill="#111"/>
<text x="10.5" y="16.8" font-size="10.9" font-weight="bold" fill="#111" textLength="128.9" lengthAdjust="spacingAndGlyphs">Power characteristic curve</text>
<text x="335.7" y="16.8" font-size="10.9" font-weight="bold" fill="#111" textLength="128.9" lengthAdjust="spacingAndGlyphs">Power characteristic curve</text>
<text x="10.3" y="233.6" font-size="10.9" font-weight="bold" fill="#111" textLength="131.4" lengthAdjust="spacingAndGlyphs">Torque characteristic curve</text>
<text x="336" y="233.6" font-size="10.9" font-weight="bold" fill="#111" textLength="131.6" lengthAdjust="spacingAndGlyphs">Torque characteristic curve</text>
<line x1="327.8" y1="0" x2="327.8" y2="430.3" stroke="#888" stroke-width="1.2"/>
</svg></body></html>
